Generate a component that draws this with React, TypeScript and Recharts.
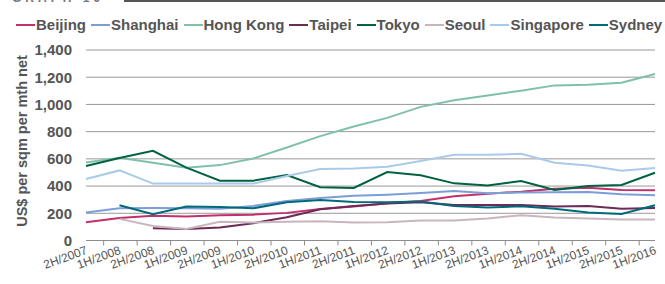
import React from "react";
import { LineChart, Line, XAxis, YAxis, CartesianGrid } from "recharts";

const categories = [
  "2H/2007", "1H/2008", "2H/2008", "1H/2009", "2H/2009", "1H/2010", "2H/2010", "1H/2011", "2H/2011",
  "1H/2012", "2H/2012", "1H/2013", "2H/2013", "1H/2014", "2H/2014", "1H/2015", "2H/2015", "1H/2016",
];

const beijing = [134, 166, 181, 176, 186, 190, 203, 232, 250, 273, 291, 325, 344, 359, 381, 388, 371, 369];
const shanghai = [205, 237, 239, 237, 234, 254, 291, 313, 328, 337, 349, 364, 347, 352, 354, 357, 339, 332];
const hongKong = [574, 608, 571, 535, 554, 603, 684, 767, 838, 901, 982, 1030, 1065, 1101, 1140, 1145, 1160, 1223];
const taipei = [null, null, 90, 85, 95, 127, 171, 230, 254, 271, 281, 261, 261, 261, 249, 254, 234, 239];
const tokyo = [547, 606, 659, 535, 440, 440, 481, 391, 386, 503, 479, 420, 405, 437, 371, 400, 408, 498];
const seoul = [null, 159, 107, 85, 137, 132, 137, 142, 133, 134, 147, 147, 161, 186, 169, 161, 154, 154];
const singapore = [452, 515, 418, 418, 418, 418, 474, 525, 530, 542, 584, 630, 630, 637, 571, 552, 513, 532];
const sydney = [null, 259, 193, 249, 247, 237, 281, 298, 283, 281, 286, 254, 242, 252, 234, 205, 195, 259];

const yTicks = [0, 200, 400, 600, 800, 1000, 1200, 1400];

const series = [
  { key: "Beijing", values: beijing, color: "#c2306c" },
  { key: "Shanghai", values: shanghai, color: "#7b9ed8" },
  { key: "Hong Kong", values: hongKong, color: "#80c0a9" },
  { key: "Taipei", values: taipei, color: "#6c2a57" },
  { key: "Tokyo", values: tokyo, color: "#00623f" },
  { key: "Seoul", values: seoul, color: "#c9b6bd" },
  { key: "Singapore", values: singapore, color: "#aacaea" },
  { key: "Sydney", values: sydney, color: "#00697a" },
];

const data = categories.map((c, i) => {
  const row: Record<string, any> = { name: c };
  series.forEach((s) => {
    row[s.key] = s.values[i];
  });
  return row;
});

const FONT = "'Liberation Sans', Arial, Helvetica, sans-serif";
const W = 665;
const H = 284;
const LEFT = 86;
const RIGHT = 10;
const BAND = (W - LEFT - RIGHT) / categories.length;

const XTick = (props: any) => {
  const { x, y, payload, index } = props;
  const last = index === categories.length - 1;
  return (
    <g>
      <line x1={x - BAND / 2} x2={x - BAND / 2} y1={y} y2={y + 5} stroke="#8c8c8c" strokeWidth={1} />
      {last && <line x1={x + BAND / 2} x2={x + BAND / 2} y1={y} y2={y + 5} stroke="#8c8c8c" strokeWidth={1} />}
      <text
        x={x + 2}
        y={y + 13}
        textAnchor="end"
        transform={`rotate(-20, ${x + 2}, ${y + 13})`}
        fontSize={12}
        fill="#555"
        fontFamily={FONT}
      >
        {payload.value}
      </text>
    </g>
  );
};

const YLabel = () => (
  <text
    x={27}
    y={141}
    transform="rotate(-90, 27, 141)"
    textAnchor="middle"
    fontSize={14.5}
    fontWeight="bold"
    fill="#555"
    fontFamily={FONT}
  >
    US$ per sqm per mth net
  </text>
);

export default function App() {
  return (
    <div style={{ position: "absolute", left: 0, top: 0, width: W, height: H, overflow: "hidden", background: "#fff", fontFamily: FONT }}>
      <div
        style={{
          position: "absolute",
          left: 12,
          top: -9,
          fontSize: 12,
          fontWeight: "bold",
          color: "#777",
          letterSpacing: 4,
          lineHeight: "14px",
        }}
      >
        GRAPH 16
      </div>
      <div style={{ position: "absolute", left: 124, right: 0, top: 0, height: 2, background: "#555" }} />
      <div
        style={{
          position: "absolute",
          left: 16,
          top: 16,
          display: "flex",
          alignItems: "center",
          whiteSpace: "nowrap",
          fontSize: 15,
          fontWeight: "bold",
          color: "#555",
          lineHeight: "17px",
        }}
      >
        {series.map((s) => (
          <div key={s.key} style={{ display: "flex", alignItems: "center", marginRight: 5 }}>
            <span style={{ display: "inline-block", width: 19, height: 2, background: s.color, marginRight: 1 }} />
            <span>{s.key}</span>
          </div>
        ))}
      </div>
      <LineChart width={W} height={H} data={data} margin={{ top: 50, right: RIGHT, bottom: 0, left: 0 }}>
        <CartesianGrid vertical={false} stroke="#999" strokeWidth={1} />
        <XAxis
          dataKey="name"
          height={43.5}
          interval={0}
          tickLine={false}
          tickSize={0}
          tickMargin={0}
          axisLine={{ stroke: "#8c8c8c" }}
          tick={<XTick />}
        />
        <YAxis
          width={LEFT}
          domain={[0, 1400]}
          ticks={yTicks}
          axisLine={false}
          tickLine={false}
          tickSize={6}
          tickMargin={8}
          tickFormatter={(v: number) => v.toLocaleString("en-US")}
          tick={{ fontSize: 15, fontWeight: "bold", fill: "#555", fontFamily: FONT }}
          label={<YLabel />}
        />
        {series.map((s) => (
          <Line
            key={s.key}
            type="linear"
            dataKey={s.key}
            stroke={s.color}
            strokeWidth={2}
            dot={false}
            activeDot={false}
            isAnimationActive={false}
          />
        ))}
      </LineChart>
    </div>
  );
}
